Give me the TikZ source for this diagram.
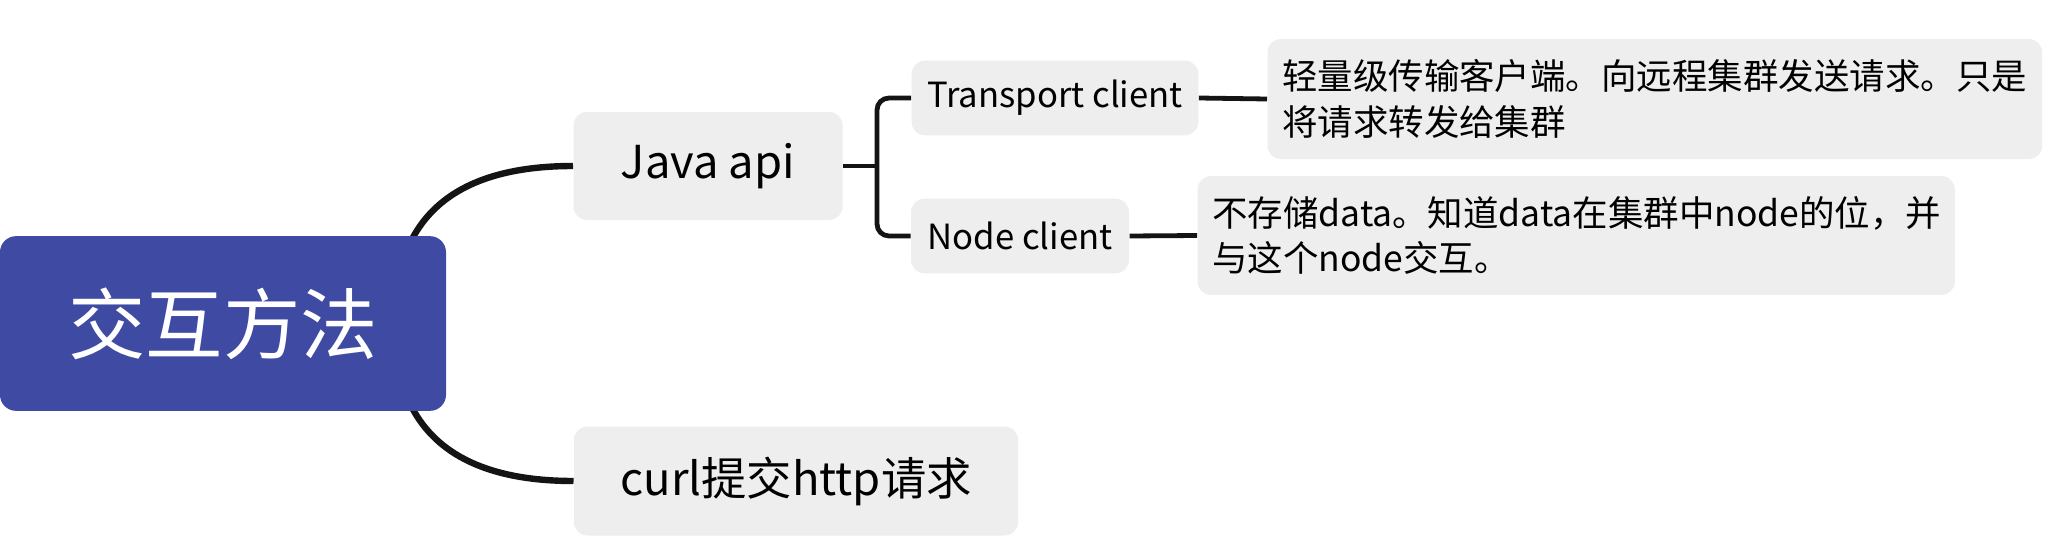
\documentclass[tikz,border=0pt]{standalone}
\usepackage{fontspec}
\setmainfont{Noto Sans CJK SC}
\definecolor{rootblue}{RGB}{63,75,163}
\definecolor{topicgray}{RGB}{238,238,238}
\definecolor{branchline}{RGB}{20,20,20}

\tikzset{every picture/.style={line width=0.75pt}}
\tikzset{
  roottopic/.style={fill=rootblue, text=white, rounded corners=12pt, inner sep=0pt, font=\fontsize{58}{69}\selectfont},
  maintopic/.style={fill=topicgray, rounded corners=10pt, inner sep=0pt, font=\fontsize{34}{41}\selectfont},
  subtopic/.style={fill=topicgray, rounded corners=10pt, inner sep=0pt, font=\fontsize{26}{31}\selectfont},
  notetopic/.style={fill=topicgray, rounded corners=10pt, inner xsep=11pt, inner ysep=0pt, anchor=west, align=left, font=\fontsize{26.6}{34}\selectfont},
  rootline/.style={draw=branchline, line width=4.8pt},
  branchline/.style={draw=branchline, line width=3.6pt},
}

\begin{document}
\begin{tikzpicture}[x=0.75pt,y=0.75pt,yscale=-1]
\path[fill=white] (0,0) rectangle (2058,546);
\useasboundingbox (0,0) rectangle (2058,546);

% Text Node
\node (java) [maintopic, minimum width=201.75pt, minimum height=81pt] at (708,166) {Java api};
% Text Node
\node (curl) [maintopic, minimum width=333pt, minimum height=81.75pt] at (796,481) {curl提交http请求};
% Text Node
\node (tc) [subtopic, minimum width=215pt, minimum height=56pt] at (1055,98) {Transport client};
% Text Node
\node (nc) [subtopic, minimum width=163.5pt, minimum height=56pt] at (1020,236) {Node client};
% Text Node
\node (tdesc) [notetopic, text width=559pt, minimum height=90pt] at (1267,99) {轻量级传输客户端。向远程集群发送请求。只是\\将请求转发给集群};
% Text Node
\node (ndesc) [notetopic, text width=546pt, minimum height=89pt] at (1197,235.5) {不存储data。知道data在集群中node的位，并\\与这个node交互。};

%Curves from the root
\coordinate (hub) at (394,323.5);
\draw[rootline] (hub) .. controls +(0,-105) and +(-120,0) .. (java.west);
\draw[rootline] (hub) .. controls +(0,105) and +(-120,0) .. (curl.west);

%Straight Lines
\coordinate (fork) at (877,166);
\draw[branchline] (java.east) -- (fork);
\draw[branchline, rounded corners=9pt] (tc.west) -| (fork) |- (nc.west);
\draw[branchline] (tc.east) -- (tdesc.west);
\draw[branchline] (nc.east) -- (ndesc.west);

% Text Node
\node (root) [roottopic, minimum width=334.5pt, minimum height=131pt] at (223,323.5) {交互方法};

\end{tikzpicture}
\end{document}
